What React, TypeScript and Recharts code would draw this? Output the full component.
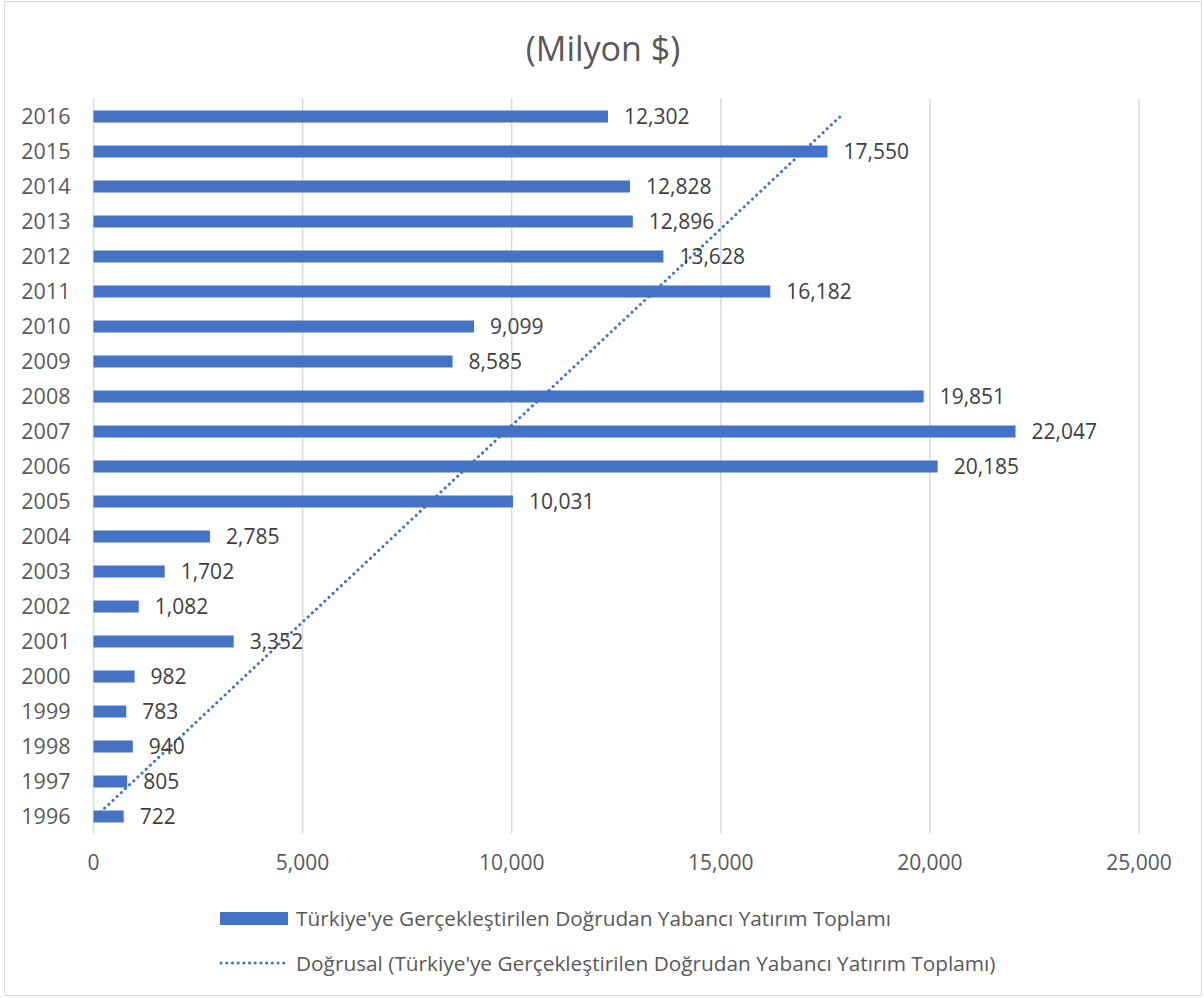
import React from 'react';
import {
  ComposedChart, Bar, Line, XAxis, YAxis, CartesianGrid, LabelList,
} from 'recharts';

const years = ['1996','1997','1998','1999','2000','2001','2002','2003','2004','2005','2006','2007','2008','2009','2010','2011','2012','2013','2014','2015','2016'];
const fdiValues = [722, 805, 940, 783, 982, 3352, 1082, 1702, 2785, 10031, 20185, 22047, 19851, 8585, 9099, 16182, 13628, 12896, 12828, 17550, 12302];
// Linear trendline end values
const trendStart = 68;
const trendEnd = 17868;
const xTicks = [0, 5000, 10000, 15000, 20000, 25000];

const seriesName = "Türkiye'ye Gerçekleştirilen Doğrudan Yabancı Yatırım Toplamı";
const trendName = "Doğrusal (Türkiye'ye Gerçekleştirilen Doğrudan Yabancı Yatırım Toplamı)";

const data = years.map((y, i) => ({
  year: y,
  value: fdiValues[i],
  trend: i === 0 ? trendStart : i === years.length - 1 ? trendEnd : null,
}));

const FONT = '"Open Sans", sans-serif';
const BLUE = '#4472C4';

const fmt = (v: number) => v.toLocaleString('en-US');

export default function App() {
  return (
    <div
      style={{
        position: 'absolute', left: 4, top: 1, width: 1198, height: 995,
        border: '1px solid #d9d9d9', background: '#fff', fontFamily: FONT,
        boxSizing: 'border-box',
      }}
    >
      <div
        style={{
          position: 'absolute', left: 0, width: '100%', top: 26, textAlign: 'center',
          fontSize: 34, color: '#595959', lineHeight: '40px',
        }}
      >
        (Milyon $)
      </div>
      <div style={{ position: 'absolute', left: -1, top: -1 }}>
        <ComposedChart
          width={1198}
          height={995}
          data={data}
          layout="vertical"
          margin={{ top: 97.5, right: 63, bottom: 122.5, left: 0 }}
        >
          <CartesianGrid horizontal={false} vertical stroke="#d9d9d9" strokeWidth={1.5} />
          <XAxis
            type="number"
            domain={[0, 25000]}
            ticks={xTicks}
            tickFormatter={fmt}
            axisLine={false}
            tickLine={false}
            tickSize={0}
            tickMargin={22}
            height={40}
            tick={{ fill: '#595959', fontSize: 21, fontFamily: FONT }}
          />
          <YAxis
            type="category"
            dataKey="year"
            reversed
            width={89.5}
            axisLine={false}
            tickLine={false}
            tickSize={0}
            tickMargin={23}
            interval={0}
            tick={{ fill: '#595959', fontSize: 21.5, fontFamily: FONT }}
          />
          <Bar dataKey="value" fill={BLUE} barSize={12} isAnimationActive={false}>
            <LabelList
              dataKey="value"
              position="right"
              offset={16}
              formatter={(v: any) => fmt(Number(v))}
              style={{ fill: '#404040', fontSize: 21, fontFamily: FONT }}
            />
          </Bar>
          <Line
            dataKey="trend"
            type="linear"
            connectNulls
            stroke={BLUE}
            strokeWidth={3}
            strokeLinecap="round"
            strokeDasharray="0.1 5.6"
            dot={false}
            activeDot={false}
            isAnimationActive={false}
          />
        </ComposedChart>
      </div>
      <div style={{ position: 'absolute', left: 214, top: 900, color: '#595959', fontSize: 20.8 }}>
        <div style={{ display: 'flex', alignItems: 'center', height: 32, whiteSpace: 'nowrap' }}>
          <svg width={70} height={14} style={{ marginRight: 7 }}>
            <rect x={1} y={1} width={68} height={13} fill={BLUE} />
          </svg>
          <span>{seriesName}</span>
        </div>
        <div style={{ display: 'flex', alignItems: 'center', height: 32, marginTop: 13, whiteSpace: 'nowrap' }}>
          <svg width={70} height={14} style={{ marginRight: 7 }}>
            <line x1={2} y1={7} x2={68} y2={7} stroke={BLUE} strokeWidth={3} strokeLinecap="round" strokeDasharray="0.1 5.6" />
          </svg>
          <span>{trendName}</span>
        </div>
      </div>
    </div>
  );
}
